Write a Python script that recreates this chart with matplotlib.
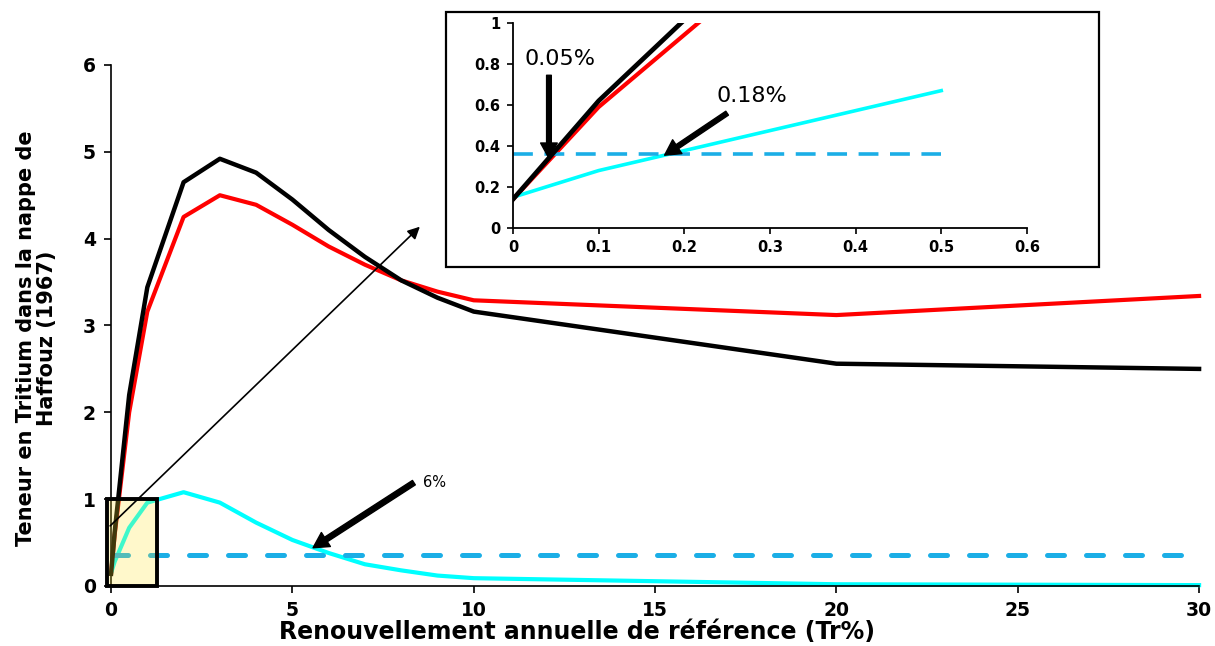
import matplotlib
matplotlib.use("Agg")
import matplotlib.pyplot as plt
from matplotlib.patches import Rectangle

# data
tr = [0, 0.1, 0.5, 1, 2, 3, 4, 5, 6, 7, 8, 9, 10, 20, 30]
black = [0.14, 0.62, 2.2, 3.44, 4.65, 4.92, 4.76, 4.45, 4.10, 3.79, 3.52, 3.32, 3.16, 2.56, 2.50]
red = [0.14, 0.59, 2.0, 3.16, 4.25, 4.50, 4.39, 4.16, 3.91, 3.70, 3.52, 3.39, 3.29, 3.12, 3.34]
cyan = [0.15, 0.28, 0.67, 0.96, 1.08, 0.96, 0.73, 0.53, 0.38, 0.25, 0.18, 0.12, 0.09, 0.02, 0.01]
seuil = 0.36
main_xticks = [0, 5, 10, 15, 20, 25, 30]
main_yticks = [0, 1, 2, 3, 4, 5, 6]
inset_xticks = [0, 0.1, 0.2, 0.3, 0.4, 0.5, 0.6]
inset_yticks = [0, 0.2, 0.4, 0.6, 0.8, 1]

DASH = "#1BAEE6"

fig = plt.figure(figsize=(12.15, 6.46), dpi=100)
ax = fig.add_axes([0.0914, 0.0929, 0.8955, 0.8065])

ax.plot(tr, black, color="black", lw=3.2, zorder=3, clip_on=False)
ax.plot(tr, red, color="red", lw=3.0, zorder=2, clip_on=False)
ax.plot(tr, cyan, color="cyan", lw=3.0, zorder=2, clip_on=False)
l, = ax.plot([0, 30], [seuil, seuil], color=DASH, lw=3.6, zorder=2,
             dash_capstyle="round")
l.set_dashes((3.4, 4.4))

ax.add_patch(Rectangle((-0.1, 0), 1.37, 1.0, facecolor=(1, 0.9, 0.2, 0.25),
                       edgecolor="black", lw=2.8, zorder=4, clip_on=False))

ax.set_xlim(0, 30)
ax.set_ylim(0, 6)
ax.set_xticks(main_xticks)
ax.set_yticks(main_yticks)
for s in ["top", "right"]:
    ax.spines[s].set_visible(False)
for s in ["left", "bottom"]:
    ax.spines[s].set_linewidth(1.2)
ax.tick_params(direction="out", length=5, width=1.2, labelsize=13.5, pad=6)
for t in ax.get_xticklabels() + ax.get_yticklabels():
    t.set_fontweight("bold")

# thin arrow pointing to the zoom
ax.annotate("", xy=(8.57, 4.16), xytext=(-0.08, 0.67),
            arrowprops=dict(arrowstyle="-|>", color="black", lw=1.2,
                            mutation_scale=18), zorder=5, annotation_clip=False)

# 6% arrow
ax.annotate("", xy=(5.57, 0.44), xytext=(8.35, 1.19),
            arrowprops=dict(facecolor="black", edgecolor="black", width=3.8,
                            headwidth=12, headlength=11, shrink=0), zorder=5)
ax.text(8.6, 1.19, "6%", fontsize=10.5, va="center", ha="left")

fig.text(0.475, 0.022, "Renouvellement annuelle de référence (Tr%)",
         ha="center", va="center", fontsize=17, fontweight="bold")
fig.text(0.030, 0.477, "Teneur en Tritium dans la nappe de\nHaffouz (1967)",
         ha="center", va="center", rotation=90, fontsize=15,
         fontweight="bold", multialignment="center", linespacing=1.1)

# inset frame + zoomed axes
fig.patches.append(Rectangle((0.3671, 0.5867), 0.5374, 0.394,
                             transform=fig.transFigure, facecolor="white",
                             edgecolor="black", lw=1.6, zorder=5))
ins = fig.add_axes([0.4222, 0.6471, 0.4230, 0.3173], zorder=6)
ins.patch.set_alpha(0)
n = tr.index(0.5) + 1
ins.plot(tr[:n], black[:n], color="black", lw=3.4, zorder=3)
ins.plot(tr[:n], red[:n], color="red", lw=3.0, zorder=2)
ins.plot(tr[:n], cyan[:n], color="cyan", lw=2.6, zorder=2)
l2, = ins.plot([0, 0.5], [seuil, seuil], color=DASH, lw=2.6, zorder=2)
l2.set_dashes((5.5, 3.2))
ins.set_xlim(0, 0.6)
ins.set_ylim(0, 1)
ins.set_xticks(inset_xticks)
ins.set_xticklabels(["0", "0.1", "0.2", "0.3", "0.4", "0.5", "0.6"])
ins.set_yticks(inset_yticks)
ins.set_yticklabels(["0", "0.2", "0.4", "0.6", "0.8", "1"])
for s in ["top", "right"]:
    ins.spines[s].set_visible(False)
for s in ["left", "bottom"]:
    ins.spines[s].set_linewidth(1.3)
ins.tick_params(direction="out", length=4, width=1.2, labelsize=10.5, pad=5)
for t in ins.get_xticklabels() + ins.get_yticklabels():
    t.set_fontweight("bold")

ins.annotate("", xy=(0.042, 0.34), xytext=(0.042, 0.745),
             arrowprops=dict(facecolor="black", edgecolor="black", width=3.4,
                             headwidth=12, headlength=11, shrink=0), zorder=5)
ins.text(0.055, 0.824, "0.05%", fontsize=16, ha="center", va="center")
ins.annotate("", xy=(0.177, 0.355), xytext=(0.25, 0.56),
             arrowprops=dict(facecolor="black", edgecolor="black", width=3.4,
                             headwidth=12, headlength=11, shrink=0), zorder=5)
ins.text(0.279, 0.645, "0.18%", fontsize=16, ha="center", va="center")

fig.savefig("out.png", dpi=100)
